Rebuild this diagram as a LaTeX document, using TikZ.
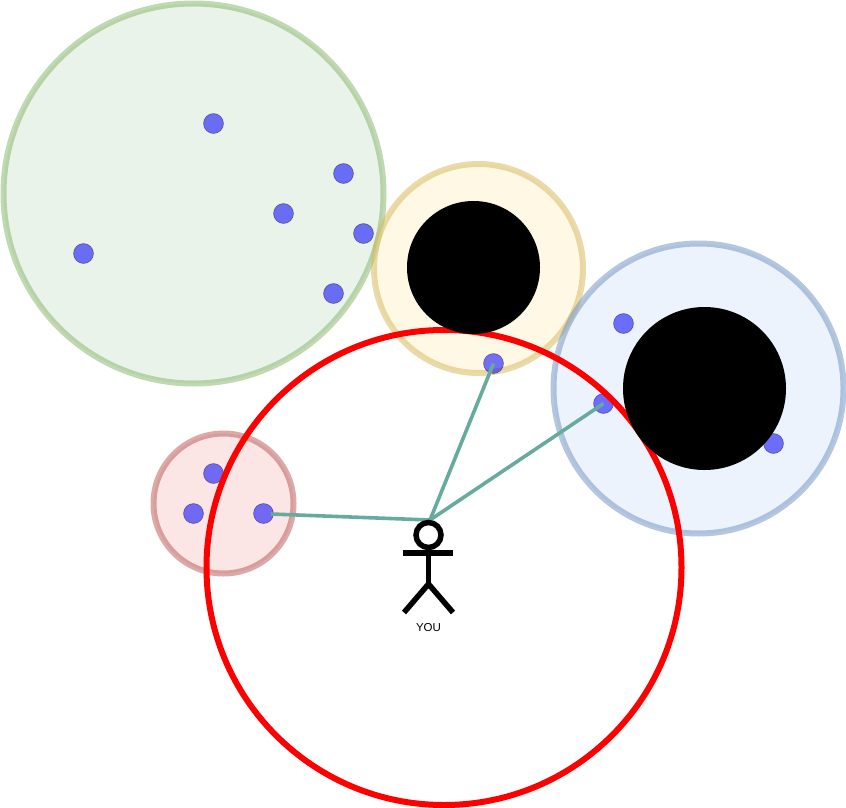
\documentclass[tikz,border=0pt]{standalone}
\usepackage{xcolor}
\usepackage{fontspec}
\setmainfont{Liberation Sans}
\usepackage{tikz}
\definecolor{greenfill}{HTML}{D5E8D4}
\definecolor{greenline}{HTML}{82B366}
\definecolor{yellowfill}{HTML}{FFF2CC}
\definecolor{yellowline}{HTML}{D6B656}
\definecolor{bluefill}{HTML}{DAE8FC}
\definecolor{blueline}{HTML}{6C8EBF}
\definecolor{pinkfill}{HTML}{F8CECC}
\definecolor{pinkline}{HTML}{B85450}
\definecolor{linkline}{HTML}{67AB9F}
\tikzset{
  zone/.style={circle,inner sep=0pt,outer sep=0pt,line width=6pt,opacity=0.5},
  hole/.style={circle,inner sep=0pt,outer sep=0pt,fill=black},
  peer/.style={circle,inner sep=0pt,outer sep=0pt,minimum size=20pt,fill=blue,fill opacity=0.55,draw=black,draw opacity=0.35,line width=0.7pt},
  link/.style={linkline,line width=3.6pt},
  stick/.style={black,line width=5.5pt}
}
\begin{document}
\begin{tikzpicture}[x=1pt,y=-1pt]
    \useasboundingbox (0,0) rectangle (846,808);
    % zones
    \node[zone,minimum size=380pt,fill=greenfill,draw=greenline] (zg) at (193.5,193.5) {};
    \node[zone,minimum size=209pt,fill=yellowfill,draw=yellowline] (zy) at (478.5,268.5) {};
    \node[zone,minimum size=290pt,fill=bluefill,draw=blueline] (zb) at (698.5,388.5) {};
    \node[zone,minimum size=140pt,fill=pinkfill,draw=pinkline] (zp) at (223.5,503.5) {};
    % peers
    \node[peer] (g1) at (213.5,123.5) {};
    \node[peer] (g2) at (343.5,173.5) {};
    \node[peer] (g3) at (283.5,213.5) {};
    \node[peer] (g4) at (363.5,233.5) {};
    \node[peer] (g5) at (83.5,253.5) {};
    \node[peer] (g6) at (333.5,293.5) {};
    \node[peer] (y1) at (493.5,363.5) {};
    \node[peer] (b1) at (623.5,323.5) {};
    \node[peer] (b2) at (603.5,403.5) {};
    \node[peer] (b3) at (773.5,443.5) {};
    \node[peer] (p1) at (213.5,473.5) {};
    \node[peer] (p2) at (193.5,513.5) {};
    \node[peer] (p3) at (263.5,513.5) {};
    % range
    \node[circle,inner sep=0pt,outer sep=0pt,minimum size=475pt,draw=red,line width=6pt] (range) at (444,567.5) {};
    % holes
    \node[hole,minimum size=133pt] (h1) at (473.5,267.5) {};
    \node[hole,minimum size=163pt] (h2) at (704.5,388.5) {};
    % you
    \coordinate (top) at (430,520);
    \coordinate (p3end) at (271,514);
    \draw[link] (top) -- (y1.center);
    \draw[link] (top) -- (b2.center);
    \draw[link] (top) -- (p3end);
    \node[circle,inner sep=0pt,outer sep=0pt,minimum size=25pt,draw=black,line width=5.5pt,fill=white] (head) at (428.5,535) {};
    \coordinate (hip) at (428.5,584);
    \coordinate (handl) at (403,553);
    \coordinate (handr) at (453,553);
    \coordinate (footl) at (404,612.5);
    \coordinate (footr) at (453,612.5);
    \draw[stick] (head) -- (hip);
    \draw[stick] (handl) -- (handr);
    \draw[stick] (footl) -- (hip) -- (footr);
    \node[font=\fontsize{11.5}{13}\selectfont] (you) at (428.5,628) {YOU};
\end{tikzpicture}
\end{document}
